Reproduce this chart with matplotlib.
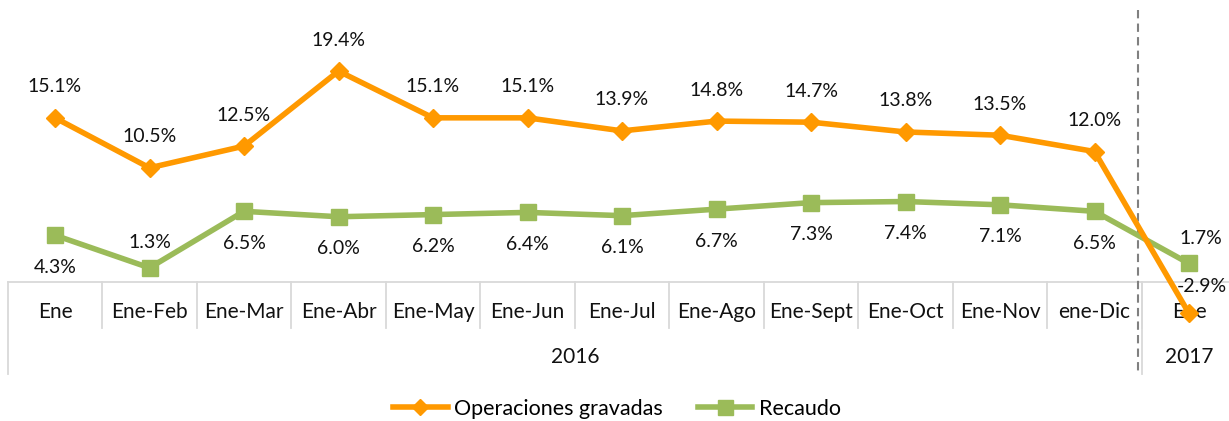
import numpy as np
import matplotlib.pyplot as plt

plt.rcParams['font.family'] = ['Lato', 'DejaVu Sans']

meses = ['Ene', 'Ene-Feb', 'Ene-Mar', 'Ene-Abr', 'Ene-May', 'Ene-Jun', 'Ene-Jul',
         'Ene-Ago', 'Ene-Sept', 'Ene-Oct', 'Ene-Nov', 'ene-Dic', 'Ene']
anios = ['2016', '2017']
meses_por_anio = [12, 1]
operaciones = [15.1, 10.5, 12.5, 19.4, 15.1, 15.1, 13.9, 14.8, 14.7, 13.8, 13.5, 12.0, -2.9]
recaudo = [4.3, 1.3, 6.5, 6.0, 6.2, 6.4, 6.1, 6.7, 7.3, 7.4, 7.1, 6.5, 1.7]
# etiquetas de recaudo que van encima del punto
recaudo_arriba = [1, 12]

naranja = '#FF9900'
verde = '#9BBB59'
gris = '#D9D9D9'

fig = plt.figure(figsize=(12.29, 4.21), dpi=100)
ax = fig.add_axes([0, 0, 1, 1])
ax.set_xlim(-0.582, 12.423)
ax.set_ylim(-12.79, 25.94)
ax.axis('off')

x = np.arange(len(meses))

# eje de categorias con dos niveles
ax.plot([-0.5, 12.6], [0, 0], color=gris, lw=1.3, zorder=1)
for b in np.arange(0.5, len(meses) - 1, 1.0):
    ax.plot([b, b], [0, -4.23], color=gris, lw=1.3, zorder=1)
inicio = -0.5
for anio, n in zip(anios, meses_por_anio):
    ax.plot([inicio, inicio], [0, -8.46], color=gris, lw=1.3, zorder=1)
    ax.text(inicio + n / 2, -6.9, anio, ha='center', va='center', fontsize=15, color='#111111')
    inicio += n
for xi, m in zip(x, meses):
    ax.text(xi, -2.76, m, ha='center', va='center', fontsize=15, color='#111111')

# separacion entre años
ax.plot([11.46, 11.46], [25.0, -8.46], color='#808080', lw=1.5, ls=(0, (4, 2.5)), zorder=2)

l1, = ax.plot(x, operaciones, color=naranja, lw=4, marker='D', ms=9, zorder=4,
              label='Operaciones gravadas', solid_joinstyle='miter')
l2, = ax.plot(x, recaudo, color=verde, lw=4, marker='s', ms=12, zorder=3, label='Recaudo')

ultimo = len(meses) - 1
for i, (xi, v) in enumerate(zip(x, operaciones)):
    dx, dy = (13, 27) if i == ultimo else (0, 31)
    ax.annotate(f'{v:.1f}%', (xi, v), xytext=(dx, dy), textcoords='offset pixels',
                ha='center', va='center', fontsize=14, color='#111111', zorder=6)
for i, (xi, v) in enumerate(zip(x, recaudo)):
    dy = 25 if i in recaudo_arriba else -32
    dx = 12 if i == ultimo else 0
    ax.annotate(f'{v:.1f}%', (xi, v), xytext=(dx, dy), textcoords='offset pixels',
                ha='center', va='center', fontsize=14, color='#111111', zorder=6)

fig.legend(handles=[l1, l2], loc='center', bbox_to_anchor=(617 / 1229, 1 - 409 / 421),
           ncol=2, frameon=False, fontsize=15.5, handlelength=2.55, handletextpad=0.3,
           columnspacing=1.6, markerscale=0.9, borderpad=0.2)

fig.savefig('out.png', dpi=100)
